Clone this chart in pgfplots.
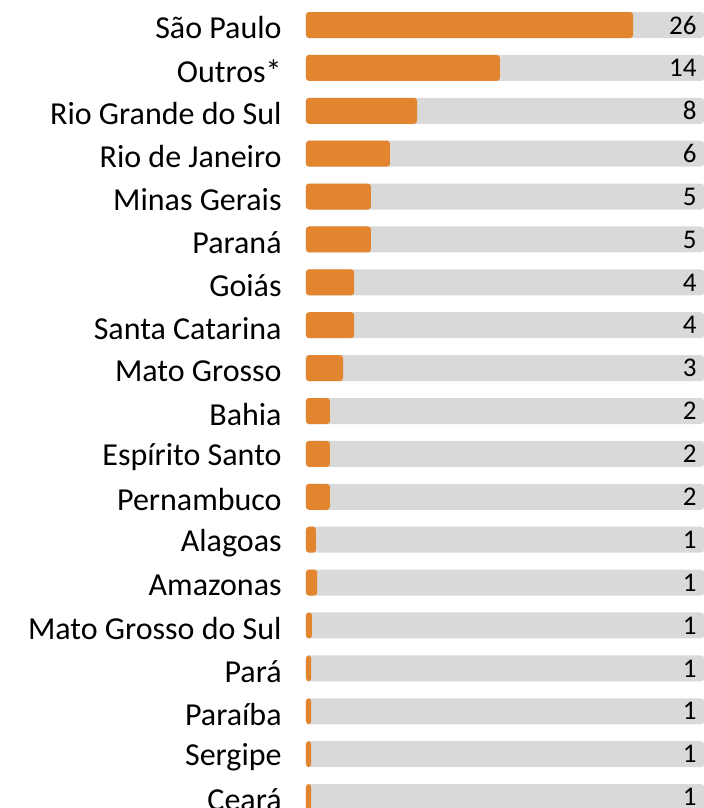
\documentclass[border=0pt]{standalone}
\usepackage{fontspec}
\setmainfont{Carlito}
\usepackage{pgfplots}
\usepackage{pgfplotstable}
\pgfplotsset{compat=1.18}
\definecolor{barorange}{HTML}{E3842F}
\definecolor{bargrey}{HTML}{D9D9D9}

\pgfplotstableread[col sep=comma]{
idx,name,bar,full,label
0,São Paulo,82.2,100,26
1,Outros*,48.7,100,14
2,Rio Grande do Sul,27.9,100,8
3,Rio de Janeiro,21.1,100,6
4,Minas Gerais,16.3,100,5
5,Paraná,16.3,100,5
6,Goiás,12.1,100,4
7,Santa Catarina,12.1,100,4
8,Mato Grosso,9.3,100,3
9,Bahia,6.0,100,2
10,Espírito Santo,6.0,100,2
11,Pernambuco,6.0,100,2
12,Alagoas,2.5,100,1
13,Amazonas,2.8,100,1
14,Mato Grosso do Sul,1.5,100,1
15,Pará,1.3,100,1
16,Paraíba,1.3,100,1
17,Sergipe,1.3,100,1
18,Ceará,1.3,100,1
}\data

\begin{document}
\begin{tikzpicture}
\begin{axis}[
  name=ax,
  scale only axis,
  width=199pt, height=404pt,
  xmin=0, xmax=100,
  ymin=-0.583, ymax=18.256,
  y dir=reverse,
  xbar,
  bar width=13pt,
  axis line style={draw=none},
  major tick length=0pt,
  xtick=\empty,
  ytick={0,...,18},
  yticklabels from table={\data}{name},
  yticklabel style={font=\fontsize{16}{18}\selectfont, anchor=east, inner sep=0pt, xshift=-12pt, yshift=-1.5pt},
]
\addplot[draw=none, fill=bargrey, rounded corners=1.5pt, bar shift=0pt,
  nodes near coords, point meta=explicit symbolic,
  nodes near coords style={anchor=east, inner sep=0pt, xshift=-3.5pt, font=\fontsize{13.5}{15}\selectfont, text=black, rounded corners=0pt}]
  table[x=full, y=idx, meta=label, col sep=comma]{\data};
\addplot[draw=none, fill=barorange, rounded corners=1.5pt, bar shift=0pt]
  table[x=bar, y=idx, col sep=comma]{\data};
\end{axis}
\pgfresetboundingbox
\path[use as bounding box] ([xshift=-153pt]ax.south west) rectangle (ax.north east);
\end{tikzpicture}
\end{document}
